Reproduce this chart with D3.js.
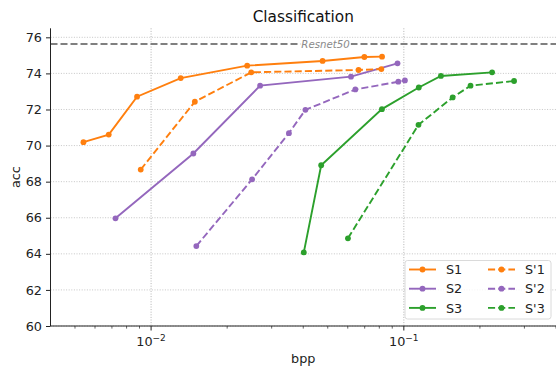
<!DOCTYPE html>
<html>
<head>
<meta charset="utf-8">
<script src="https://cdn.jsdelivr.net/npm/d3@7"></script>
<style>
  html, body { margin: 0; padding: 0; background: #fff; }
  svg { display: block; font-family: "DejaVu Sans", sans-serif; }
</style>
</head>
<body>
<svg id="chart" width="556" height="369"></svg>
<script>
// Rate / accuracy curves (bpp vs top-1 accuracy)
const seriesNames = ["S1", "S2", "S3", "S'1", "S'2", "S'3"];
const seriesColors = ["#ff7f0e", "#9467bd", "#2ca02c", "#ff7f0e", "#9467bd", "#2ca02c"];
const seriesDashed = [false, false, false, true, true, true];

const s1Bpp = [0.0054, 0.0068, 0.0088, 0.0131, 0.0240, 0.0477, 0.0698, 0.0820];
const s1Acc = [70.19, 70.61, 72.71, 73.74, 74.43, 74.69, 74.91, 74.93];
const s2Bpp = [0.00723, 0.0147, 0.0270, 0.0618, 0.0944];
const s2Acc = [65.97, 69.56, 73.32, 73.82, 74.56];
const s3Bpp = [0.0402, 0.0471, 0.0819, 0.1146, 0.1402, 0.2235];
const s3Acc = [64.08, 68.91, 72.02, 73.22, 73.86, 74.06];
const sp1Bpp = [0.0091, 0.0149, 0.0249, 0.0662, 0.0815];
const sp1Acc = [68.67, 72.43, 74.06, 74.19, 74.24];
const sp2Bpp = [0.0151, 0.0251, 0.0351, 0.0408, 0.0643, 0.0951, 0.101];
const sp2Acc = [64.43, 68.13, 70.69, 71.98, 73.11, 73.54, 73.61];
const sp3Bpp = [0.0601, 0.1143, 0.156, 0.1836, 0.273];
const sp3Acc = [64.86, 71.15, 72.67, 73.32, 73.58];

const baselineAcc = 75.63;
const baselineLabel = "Resnet50";
const baselineLabelBpp = 0.049;

const yTicks = [60, 62, 64, 66, 68, 70, 72, 74, 76];
const xMajorTicks = [0.01, 0.1];
const xMajorExp = ["\u22122", "\u22121"];
const xMinorTicks = [0.005, 0.006, 0.007, 0.008, 0.009, 0.02, 0.03, 0.04, 0.05, 0.06, 0.07, 0.08, 0.09, 0.2, 0.3, 0.4];

const seriesBpp = [s1Bpp, s2Bpp, s3Bpp, sp1Bpp, sp2Bpp, sp3Bpp];
const seriesAcc = [s1Acc, s2Acc, s3Acc, sp1Acc, sp2Acc, sp3Acc];

const svg = d3.select("#chart");
const plotL = 50.5, plotR = 556, plotT = 28.3, plotB = 326;

const x = d3.scaleLog().domain([0.004, 0.4]).range([plotL, plotR]);
const y = d3.scaleLinear().domain([60, 76.5]).range([plotB, plotT]);

// grid
const grid = svg.append("g");
grid.selectAll("line.hy").data(yTicks).join("line")
  .attr("x1", plotL).attr("x2", plotR)
  .attr("y1", d => y(d)).attr("y2", d => y(d))
  .attr("stroke", "#b8b8b8").attr("stroke-width", 0.8).attr("stroke-dasharray", "1,1.6");
grid.selectAll("line.vx").data(xMajorTicks).join("line")
  .attr("x1", d => x(d)).attr("x2", d => x(d))
  .attr("y1", plotT).attr("y2", plotB)
  .attr("stroke", "#a0a0a0").attr("stroke-width", 0.8).attr("stroke-dasharray", "1,1.6");

// baseline
svg.append("line")
  .attr("x1", plotL).attr("x2", plotR)
  .attr("y1", y(baselineAcc)).attr("y2", y(baselineAcc))
  .attr("stroke", "#808080").attr("stroke-width", 1.9).attr("stroke-dasharray", "7,3");
const blBg = svg.append("rect").attr("fill", "#fff");
const bl = svg.append("text")
  .attr("x", x(baselineLabelBpp)).attr("y", y(baselineAcc) + 3.7)
  .attr("text-anchor", "middle").attr("font-size", 10.2).attr("font-style", "italic")
  .attr("fill", "#8a8a8a").text(baselineLabel);
const bb = bl.node().getBBox();
blBg.attr("x", bb.x - 1).attr("y", y(baselineAcc) - 3).attr("width", bb.width + 2).attr("height", 6);

// series
const line = d3.line().x(d => x(d[0])).y(d => y(d[1]));
seriesNames.forEach((name, i) => {
  const pts = seriesBpp[i].map((b, j) => [b, seriesAcc[i][j]]);
  const g = svg.append("g");
  g.append("path").datum(pts).attr("d", line)
    .attr("fill", "none").attr("stroke", seriesColors[i]).attr("stroke-width", 1.9)
    .attr("stroke-dasharray", seriesDashed[i] ? "7.1,3.1" : null);
  g.selectAll("circle").data(pts).join("circle")
    .attr("cx", d => x(d[0])).attr("cy", d => y(d[1])).attr("r", 2.9)
    .attr("fill", seriesColors[i]);
});

// axes
const yAxis = d3.axisLeft(y).tickValues(yTicks).tickSize(4.5).tickPadding(4).tickFormat(d3.format("d"));
const gy = svg.append("g").attr("transform", `translate(${plotL},0)`).call(yAxis);
gy.select(".domain").attr("d", `M0,${plotT}V${plotB}`).attr("stroke", "#222").attr("stroke-width", 1);
gy.selectAll(".tick line").attr("stroke", "#222");
gy.selectAll(".tick text").attr("font-size", 12.8).attr("fill", "#222").attr("font-family", "DejaVu Sans");

const gx = svg.append("g").attr("transform", `translate(0,${plotB})`);
gx.append("line").attr("x1", plotL).attr("x2", plotR).attr("stroke", "#222").attr("stroke-width", 1);
gx.selectAll("line.maj").data(xMajorTicks).join("line")
  .attr("x1", d => x(d)).attr("x2", d => x(d)).attr("y1", 0).attr("y2", 4.5).attr("stroke", "#222");
gx.selectAll("line.min").data(xMinorTicks).join("line")
  .attr("x1", d => x(d)).attr("x2", d => x(d)).attr("y1", 0).attr("y2", 2.6).attr("stroke", "#222").attr("stroke-width", 0.7);
xMajorTicks.forEach((d, i) => {
  const t = gx.append("text").attr("x", x(d)).attr("y", 20).attr("text-anchor", "middle")
    .attr("font-size", 12.8).attr("fill", "#222");
  t.append("tspan").text("10");
  t.append("tspan").attr("font-size", 9).attr("dy", -5.5).text(xMajorExp[i]);
});

// labels
svg.append("text").attr("x", (plotL + plotR) / 2).attr("y", 363).attr("text-anchor", "middle")
  .attr("font-size", 12.8).attr("fill", "#222").text("bpp");
svg.append("text").attr("transform", `translate(20,${(plotT + plotB) / 2}) rotate(-90)`)
  .attr("text-anchor", "middle").attr("font-size", 12.8).attr("fill", "#222").text("acc");
svg.append("text").attr("x", (plotL + plotR) / 2).attr("y", 21.5).attr("text-anchor", "middle")
  .attr("font-size", 15.3).attr("fill", "#111").text("Classification");

// legend (two columns)
const lg = svg.append("g");
lg.append("rect").attr("x", 405).attr("y", 260.5).attr("width", 146).attr("height", 58.5)
  .attr("rx", 2.5).attr("fill", "#fff").attr("fill-opacity", 0.8).attr("stroke", "#d0d0d0").attr("stroke-width", 0.8);
seriesNames.forEach((name, i) => {
  const col = Math.floor(i / 3), row = i % 3;
  const hx = col === 0 ? 409 : 488;
  const cy = 269.5 + row * 19.2;
  lg.append("line").attr("x1", hx).attr("x2", hx + 27).attr("y1", cy).attr("y2", cy)
    .attr("stroke", seriesColors[i]).attr("stroke-width", 1.9)
    .attr("stroke-dasharray", seriesDashed[i] ? "7.1,3.1" : null);
  lg.append("circle").attr("cx", hx + 13.5).attr("cy", cy).attr("r", 2.9).attr("fill", seriesColors[i]);
  lg.append("text").attr("x", hx + 37).attr("y", cy + 4.6).attr("font-size", 12.8).attr("fill", "#222").text(name);
});
</script>
</body>
</html>
